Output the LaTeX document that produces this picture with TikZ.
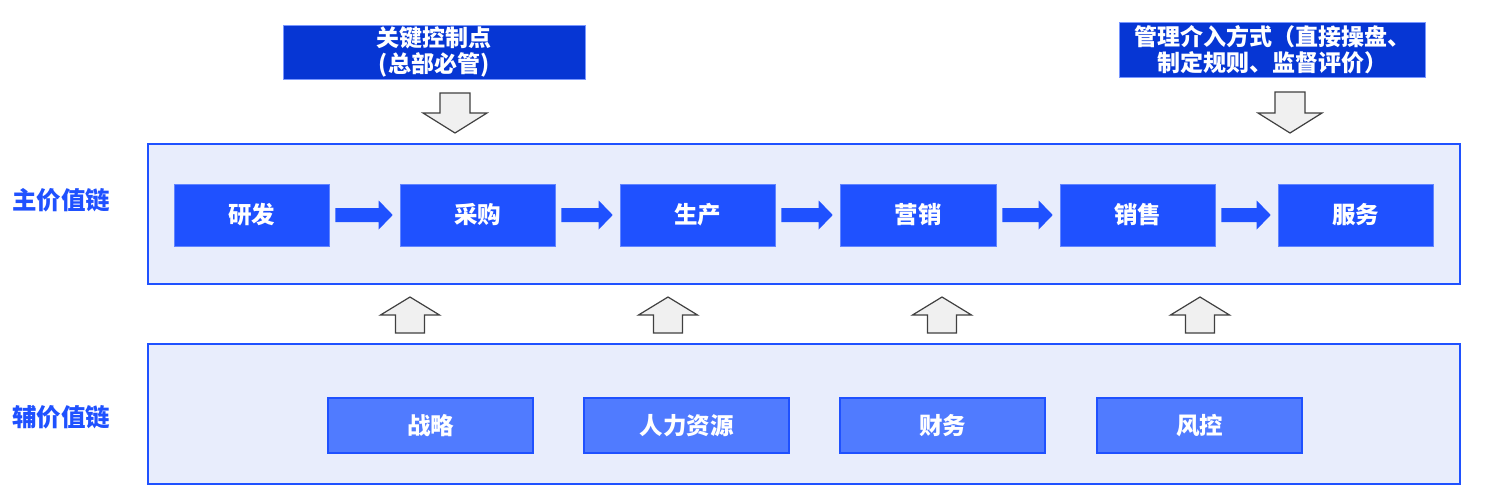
\documentclass[tikz,border=0pt]{standalone}
\usepackage{fontspec}
\newfontfamily\cjk{Noto Sans CJK SC}
\usetikzlibrary{shapes.arrows}
\definecolor{dblue}{HTML}{0636D4}
\definecolor{mblue}{HTML}{1F51FF}
\definecolor{lblue}{HTML}{507BFF}
\definecolor{pane}{HTML}{E8EDFC}
\definecolor{grayfill}{HTML}{F0F0F0}
\definecolor{grayline}{HTML}{404040}
\tikzset{
  topbox/.style={draw=mblue!60, line width=0.8pt, fill=dblue, text=white, font=\cjk\bfseries\fontsize{23}{26}\selectfont, align=center, inner sep=0pt},
  panel/.style={draw=mblue, line width=1.6pt, fill=pane},
  mainbox/.style={draw=mblue!70, line width=0.6pt, fill=mblue, text=white, font=\cjk\bfseries\fontsize{23.5}{26}\selectfont, inner sep=0pt},
  subbox/.style={draw=mblue, line width=1.2pt, fill=lblue, text=white, font=\cjk\bfseries\fontsize{23.5}{26}\selectfont, inner sep=0pt},
  sidelabel/.style={text=mblue, font=\cjk\bfseries\fontsize{24.5}{26}\selectfont, anchor=west, inner sep=0pt},
  flowarrow/.style={fill=mblue, draw=none},
  hollow/.style={fill=grayfill, draw=grayline, line width=1.2pt, line join=miter}
}
\begin{document}
\begin{tikzpicture}[x=1pt,y=-1pt]
\useasboundingbox (0,0) rectangle (1485,490);
\fill[white] (0,0) rectangle (1485,490);

% top boxes
\node[topbox, minimum width=302pt, minimum height=54pt] (kc) at (434,52) {关键控制点\\(总部必管)};
\node[topbox, minimum width=306pt, minimum height=55pt] (gl) at (1272,49.5) {管理介入方式（直接操盘、\\制定规则、监督评价）};

% panels
\node[panel, minimum width=1312pt, minimum height=140pt, inner sep=0pt] (mainp) at (804,214) {};
\node[panel, minimum width=1312pt, minimum height=140pt, inner sep=0pt] (subp) at (804,414) {};

\node[sidelabel] (lmain) at (12,200) {主价值链};
\node[sidelabel] (lsub) at (12,417) {辅价值链};

% down arrows
\coordinate (d1) at (455,93);
\draw[hollow] ([xshift=-15pt]d1) -- ++(0,20) -- ++(-17,0) -- (455,133) -- ++(32,-20) -- ++(-17,0) -- ++(0,-20) -- cycle;
\coordinate (d2) at (1290,92);
\draw[hollow] ([xshift=-15pt]d2) -- ++(0,21) -- ++(-17,0) -- (1290,133) -- ++(32,-20) -- ++(-17,0) -- ++(0,-21) -- cycle;

% main boxes
\node[mainbox, minimum width=155pt, minimum height=62pt] (rd) at (251.5,215) {研发};
\node[mainbox, minimum width=155pt, minimum height=62pt] (cg) at (477.5,215) {采购};
\node[mainbox, minimum width=155pt, minimum height=62pt] (sc) at (697.5,215) {生产};
\node[mainbox, minimum width=156pt, minimum height=62pt] (yx) at (918,215) {营销};
\node[mainbox, minimum width=155pt, minimum height=62pt] (xs) at (1137.5,215) {销售};
\node[mainbox, minimum width=155pt, minimum height=62pt] (fw) at (1355.5,215) {服务};

% flow arrows
\foreach \a/\b in {rd/cg, cg/sc, sc/yx, yx/xs, xs/fw}{
  \path ([xshift=6pt]\a.east) coordinate (s) ([xshift=-7pt]\b.west) coordinate (t);
  \fill[flowarrow] ([yshift=-7pt]s) -- ([xshift=-14pt,yshift=-7pt]t) -- ([xshift=-14pt,yshift=-14.5pt]t) -- (t) -- ([xshift=-14pt,yshift=14.5pt]t) -- ([xshift=-14pt,yshift=7pt]t) -- ([yshift=7pt]s) -- cycle;
}

% up arrows
\foreach \cx in {410,668,942,1200}{
  \draw[hollow] (\cx-14.5,333) -- (\cx-14.5,315) -- (\cx-29.5,315) -- (\cx,297) -- (\cx+29.5,315) -- (\cx+14.5,315) -- (\cx+14.5,333) -- cycle;
}

% support boxes
\node[subbox, minimum width=205pt, minimum height=55pt] (zl) at (430.5,425.5) {战略};
\node[subbox, minimum width=205pt, minimum height=55pt] (rl) at (686.5,425.5) {人力资源};
\node[subbox, minimum width=205pt, minimum height=55pt] (cw) at (942.5,425.5) {财务};
\node[subbox, minimum width=205pt, minimum height=55pt] (fk) at (1199.5,425.5) {风控};
\end{tikzpicture}
\end{document}
